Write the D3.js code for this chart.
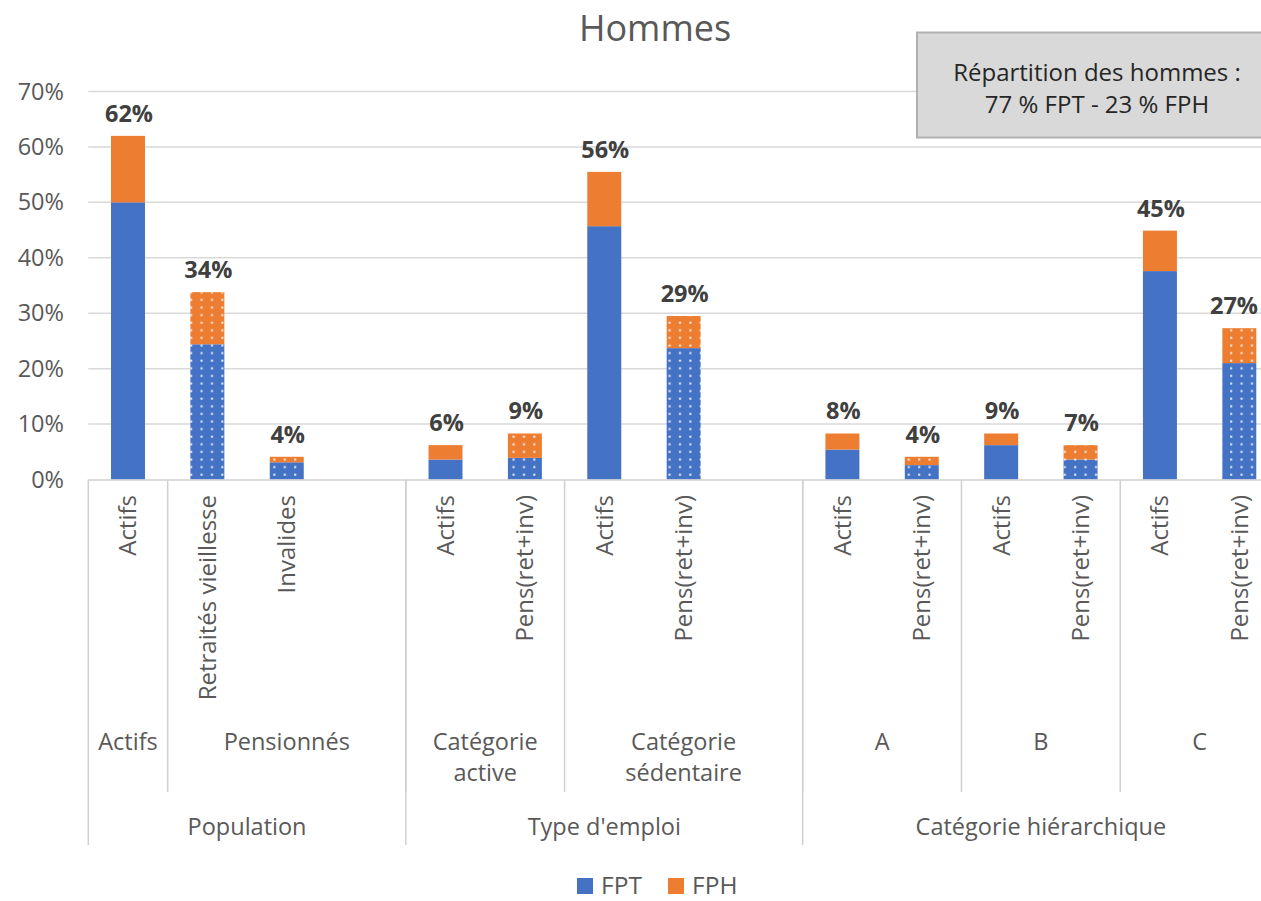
<!DOCTYPE html>
<html>
<head>
<meta charset="utf-8">
<script src="https://cdn.jsdelivr.net/npm/d3@7/dist/d3.min.js"></script>
<style>
  html, body { margin: 0; padding: 0; background: #ffffff; }
  svg { display: block; font-family: "Open Sans", "Noto Sans", sans-serif; }
</style>
</head>
<body>
<svg id="chart" width="1261" height="901"></svg>
<script>
// ---- Data ----
const categories = ["Actifs", "Retraités vieillesse", "Invalides", "",
  "Actifs", "Pens(ret+inv)", "Actifs", "Pens(ret+inv)", "",
  "Actifs", "Pens(ret+inv)", "Actifs", "Pens(ret+inv)", "Actifs", "Pens(ret+inv)"];
const fptValues = [50.0, 24.4, 3.1, null, 3.6, 3.9, 45.7, 23.7, null, 5.4, 2.6, 6.2, 3.6, 37.6, 21.0];
const fphValues = [12.0, 9.4, 1.0, null, 2.6, 4.4, 9.8, 5.8, null, 2.9, 1.5, 2.1, 2.6, 7.3, 6.3];
const totalLabels = ["62%", "34%", "4%", "", "6%", "9%", "56%", "29%", "", "8%", "4%", "9%", "7%", "45%", "27%"];
const groupLevel1 = ["Actifs", "Pensionnés", "Catégorie|active", "Catégorie|sédentaire", "A", "B", "C"];
const groupLevel1Span = [1, 3, 2, 3, 2, 2, 2];
const groupLevel2 = ["Population", "Type d'emploi", "Catégorie hiérarchique"];
const groupLevel2Span = [4, 5, 6];
const yTicks = [0, 10, 20, 30, 40, 50, 60, 70];
const seriesNames = ["FPT", "FPH"];
const chartTitle = "Hommes";
const noteLines = ["Répartition des hommes :", "77 % FPT - 23 % FPH"];

// ---- Styles ----
const colors = { FPT: "#4472C4", FPH: "#ED7D31" };
const textColor = "#595959";
const gridColor = "#d9d9d9";

(function () {
const W = 1261;
const svg = d3.select("#chart");
const plotLeft = 88.3, plotRight = 1279, plotTop = 91.5, plotBottom = 479.5;

const slots = d3.range(categories.length);
const x = d3.scaleBand().domain(slots).range([plotLeft, plotRight])
  .paddingInner(0.572).paddingOuter(0.286);
const y = d3.scaleLinear().domain([0, 70]).range([plotBottom, plotTop]);
const step = x.step();
const slotLeft = i => plotLeft + i * step;

// patterns
const defs = svg.append("defs");
["FPT", "FPH"].forEach(s => {
  const p = defs.append("pattern").attr("id", "dot-" + s)
    .attr("patternUnits", "userSpaceOnUse").attr("width", 10.4).attr("height", 7.6);
  p.append("rect").attr("width", 10.4).attr("height", 7.6).attr("fill", colors[s]);
  p.append("rect").attr("x", 3).attr("y", 2.5).attr("width", 2).attr("height", 2)
    .attr("fill", "#ffffff").attr("opacity", 0.9);
});

// title
svg.append("text").attr("x", 655).attr("y", 41).attr("text-anchor", "middle")
  .attr("font-size", 36).attr("fill", textColor).text(chartTitle);

// gridlines
svg.append("g").selectAll("line").data(yTicks.filter(d => d > 0)).join("line")
  .attr("x1", plotLeft).attr("x2", W).attr("y1", d => y(d)).attr("y2", d => y(d))
  .attr("stroke", gridColor).attr("stroke-width", 1.5);

// y axis labels
const yAxis = d3.axisLeft(y).tickValues(yTicks).tickFormat(d => d + "%").tickSize(0).tickPadding(0);
const ya = svg.append("g").attr("transform", `translate(64,0)`).call(yAxis);
ya.select(".domain").remove();
ya.selectAll("text").attr("font-size", 23.5).attr("fill", textColor)
  .attr("font-family", "Open Sans, sans-serif");

// note box
const box = svg.append("g");
box.append("rect").attr("x", 917).attr("y", 32.5).attr("width", 360).attr("height", 105)
  .attr("fill", "#d9d9d9").attr("stroke", "#b0b0b0").attr("stroke-width", 2);
noteLines.forEach((t, i) => {
  box.append("text").attr("x", 1097).attr("y", 81 + i * 31.5).attr("text-anchor", "middle")
    .attr("font-size", 24).attr("fill", "#262626").text(t);
});

// bars
const barsG = svg.append("g");
slots.forEach(i => {
  if (fptValues[i] == null) return;
  const dotted = categories[i] !== "Actifs";
  const f1 = dotted ? "url(#dot-FPT)" : colors.FPT;
  const f2 = dotted ? "url(#dot-FPH)" : colors.FPH;
  const t = fptValues[i] + fphValues[i];
  barsG.append("rect").attr("x", x(i)).attr("width", x.bandwidth())
    .attr("y", y(fptValues[i])).attr("height", y(0) - y(fptValues[i])).attr("fill", f1);
  barsG.append("rect").attr("x", x(i)).attr("width", x.bandwidth())
    .attr("y", y(t)).attr("height", y(fptValues[i]) - y(t)).attr("fill", f2);
  const lbl = svg.append("text").attr("x", x(i) + x.bandwidth() / 2 + 1).attr("y", y(t) - 14)
    .attr("text-anchor", "middle").attr("font-size", 23.5).attr("font-weight", "bold")
    .attr("fill", "#404040").text(totalLabels[i]);
  // keep labels inside the visible area
  const w = lbl.node().getComputedTextLength();
  const cx = x(i) + x.bandwidth() / 2 + 1;
  if (cx + w / 2 > W - 3) lbl.attr("x", W - 3 - w / 2);
});

// axis line
const axG = svg.append("g").attr("stroke", "#d0d0d0").attr("stroke-width", 1.5);
axG.append("line").attr("x1", plotLeft).attr("x2", W).attr("y1", plotBottom + 0.5).attr("y2", plotBottom + 0.5);

// level 0 rotated labels
slots.forEach(i => {
  if (!categories[i]) return;
  svg.append("text")
    .attr("transform", `translate(${x(i) + x.bandwidth() / 2},495) rotate(-90)`)
    .attr("text-anchor", "end").attr("dy", "0.35em")
    .attr("font-size", 24)
    .attr("fill", textColor).text(categories[i]);
});

// level 1 groups
let acc = 0;
groupLevel1.forEach((g, k) => {
  const a = acc, b = acc + groupLevel1Span[k];
  acc = b;
  const cx = (slotLeft(a) + slotLeft(b)) / 2;
  const lines = g.split("|");
  lines.forEach((ln, j) => {
    svg.append("text").attr("x", cx).attr("y", 750 + j * 31).attr("text-anchor", "middle")
      .attr("font-size", 23.5).attr("fill", textColor).text(ln);
  });
  if (a > 0) {
    axG.append("line").attr("x1", slotLeft(a)).attr("x2", slotLeft(a))
      .attr("y1", plotBottom).attr("y2", 792);
  }
});

// level 2 groups
acc = 0;
groupLevel2.forEach((g, k) => {
  const a = acc, b = acc + groupLevel2Span[k];
  acc = b;
  const cx = (slotLeft(a) + slotLeft(b)) / 2;
  svg.append("text").attr("x", cx).attr("y", 835).attr("text-anchor", "middle")
    .attr("font-size", 23.5).attr("fill", textColor).text(g);
  axG.append("line").attr("x1", slotLeft(a)).attr("x2", slotLeft(a))
    .attr("y1", plotBottom).attr("y2", 845);
});

// legend
const legendX = [577, 668];
seriesNames.forEach((s, i) => {
  svg.append("rect").attr("x", legendX[i]).attr("y", 878).attr("width", 16).attr("height", 16)
    .attr("fill", colors[s]);
  svg.append("text").attr("x", legendX[i] + 24).attr("y", 894)
    .attr("font-size", 24.5).attr("fill", textColor).text(s);
});
})();
</script>
</body>
</html>
